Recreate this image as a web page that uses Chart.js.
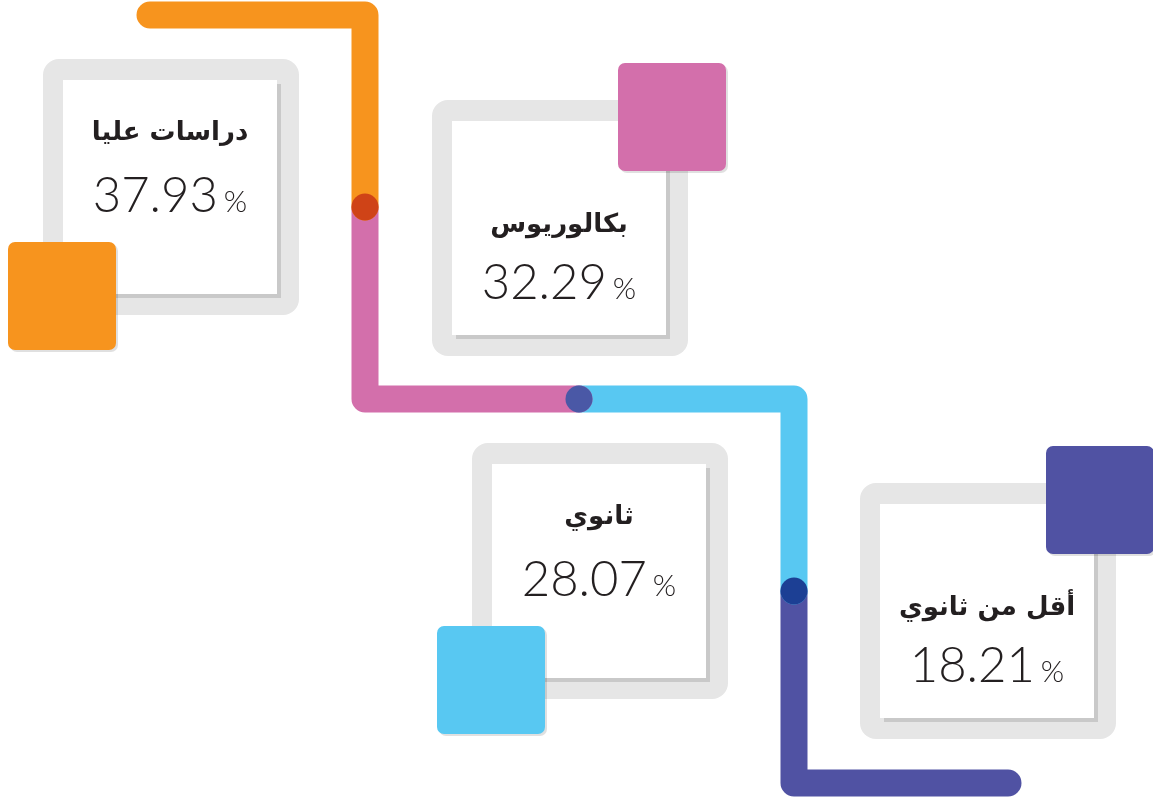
<!DOCTYPE html>
<html lang="ar">
<head>
    <meta charset="UTF-8">
    <title>Education levels</title>
    <style>
        html, body { margin: 0; padding: 0; background: #ffffff; }
        .chart-container { position: relative; width: 1153px; height: 800px; }
    </style>
</head>
<body>
    <div class="chart-container">
        <canvas id="eduChart" width="1153" height="800"></canvas>
    </div>

    <script src="https://cdn.jsdelivr.net/npm/chart.js"></script>
    <script>
        // data
        const categories = ['دراسات عليا', 'بكالوريوس', 'ثانوي', 'أقل من ثانوي'];
        const values = [37.93, 32.29, 28.07, 18.21];
        const colors = ['#f7941e', '#d36fab', '#58c8f2', '#5052a3'];
        const dotColors = ['#cf4317', '#4a58a6', '#1c3f94'];

        // layout (canvas units) - boxes and the connecting path
        const boxPos = [[43, 59], [432, 100], [472, 443], [860, 483]];
        const squareCorner = ['bl', 'tr', 'bl', 'tr'];
        const pathPts = [[150, 15], [365, 15], [365, 207], [365, 399], [579, 399],
                         [794, 399], [794, 591], [794, 783], [1008, 783]];

        const BOX = 256, FRAME = 20, SQ = 108;

        // one line dataset per colour: segment i runs pathPts[2i] -> pathPts[2i+2]
        const pathSets = colors.map((c, i) => ({
            type: 'line',
            order: 1,
            data: pathPts.slice(i * 2, i * 2 + 3).map(p => ({ x: p[0], y: p[1] })),
            borderColor: c,
            borderWidth: 27,
            borderCapStyle: 'round',
            borderJoinStyle: 'round',
            pointRadius: 0,
            tension: 0,
            fill: false,
            clip: false
        }));

        // junction dots, drawn above the path
        const dotSet = {
            type: 'scatter',
            order: 0,
            data: [2, 4, 6].map(k => ({ x: pathPts[k][0], y: pathPts[k][1] })),
            backgroundColor: dotColors,
            borderWidth: 0,
            pointRadius: 13.5,
            clip: false
        };

        const boxPlugin = {
            id: 'boxes',
            afterDatasetsDraw(chart) {
                const ctx = chart.ctx;
                const xs = chart.scales.x, ys = chart.scales.y;
                ctx.save();
                categories.forEach((name, i) => {
                    const x = xs.getPixelForValue(boxPos[i][0]);
                    const y = ys.getPixelForValue(boxPos[i][1]);

                    // grey frame
                    ctx.fillStyle = '#e6e6e6';
                    ctx.beginPath();
                    ctx.roundRect(x, y, BOX, BOX, 16);
                    ctx.fill();
                    // inner shadow + white card
                    const inner = BOX - 2 * FRAME - 2;
                    ctx.fillStyle = '#c9c9c9';
                    ctx.fillRect(x + FRAME + 4, y + FRAME + 5, inner, inner);
                    ctx.fillStyle = '#ffffff';
                    ctx.fillRect(x + FRAME, y + FRAME + 1, inner, inner);

                    // coloured square
                    const tr = squareCorner[i] === 'tr';
                    const sx = tr ? x + 186 : x - 35;
                    const sy = tr ? y - 37 : y + 183;
                    ctx.fillStyle = 'rgba(0,0,0,0.12)';
                    ctx.beginPath();
                    ctx.roundRect(sx + 2, sy + 2, SQ, SQ, 7);
                    ctx.fill();
                    ctx.fillStyle = colors[i];
                    ctx.beginPath();
                    ctx.roundRect(sx, sy, SQ, SQ, 7);
                    ctx.fill();

                    // texts
                    const cx = x + 127;
                    const titleY = tr ? y + 125 : y + 74;
                    const baseY = tr ? y + 199 : y + 153;
                    ctx.fillStyle = '#231f20';
                    ctx.textAlign = 'center';
                    ctx.textBaseline = 'middle';
                    ctx.direction = 'rtl';
                    ctx.font = 'bold 26px "DejaVu Sans", sans-serif';
                    ctx.fillText(name, cx, titleY);

                    ctx.direction = 'ltr';
                    ctx.textBaseline = 'alphabetic';
                    const num = values[i].toFixed(2);
                    ctx.font = '300 49px Lato, sans-serif';
                    const nw = ctx.measureText(num).width;
                    ctx.font = '300 30px Lato, sans-serif';
                    const pw = ctx.measureText('%').width;
                    const gap = 6;
                    const left = cx - (nw + gap + pw) / 2;
                    ctx.textAlign = 'left';
                    ctx.font = '300 49px Lato, sans-serif';
                    ctx.fillText(num, left, baseY);
                    ctx.font = '300 30px Lato, sans-serif';
                    ctx.fillText('%', left + nw + gap, baseY);
                });
                ctx.restore();
            }
        };

        new Chart(document.getElementById('eduChart'), {
            type: 'line',
            data: { datasets: [...pathSets, dotSet] },
            options: {
                responsive: false,
                animation: false,
                events: [],
                layout: { padding: 0, autoPadding: false },
                plugins: { legend: { display: false }, tooltip: { enabled: false } },
                scales: {
                    x: { type: 'linear', min: 0, max: 1153, display: false },
                    y: { type: 'linear', min: 0, max: 800, reverse: true, display: false }
                }
            },
            plugins: [boxPlugin]
        });
    </script>
</body>
</html>
